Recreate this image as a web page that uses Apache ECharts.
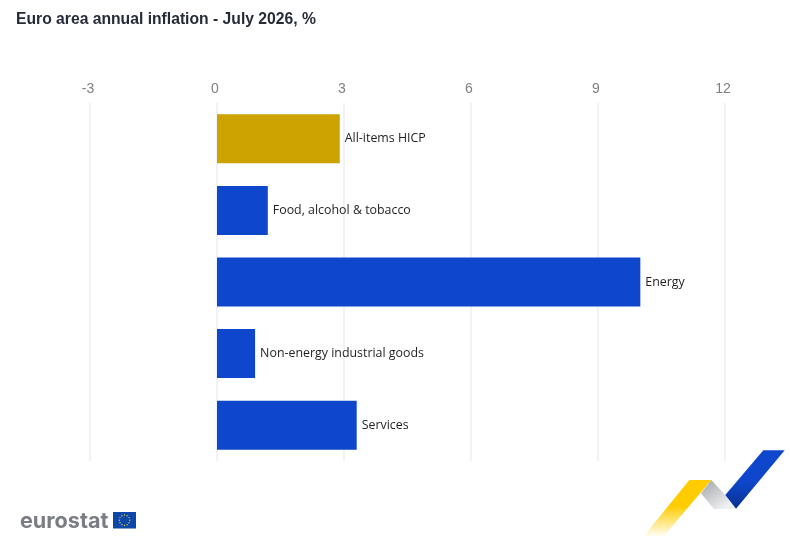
<!DOCTYPE html>
<html>
<head>
<meta charset="utf-8">
<style>html,body{margin:0;padding:0;background:#fff}#chart{width:790px;height:553px}</style>
<script src="https://cdn.jsdelivr.net/npm/echarts@6/dist/echarts.min.js"></script>
</head>
<body>
<div id="chart"></div>
<script>
// Euro area flash inflation by main component
const categories = ['All-items HICP', 'Food, alcohol & tobacco', 'Energy', 'Non-energy industrial goods', 'Services'];
const rates = [2.9, 1.2, 10.0, 0.9, 3.3];
const barColors = ['#cca300', '#0e47cb', '#0e47cb', '#0e47cb', '#0e47cb'];
const axisMin = -3;
const axisMax = 12;
const axisStep = 3;
const titleText = 'Euro area annual inflation - July 2026, %';

// Twelve gold stars for the flag in the logo
function flagStars(cx, cy, r) {
  const stars = [];
  for (let i = 0; i < 12; i++) {
    const a = i * Math.PI / 6;
    stars.push({
      type: 'circle',
      shape: { cx: cx + r * Math.cos(a), cy: cy + r * Math.sin(a), r: 0.7 },
      style: { fill: '#d9c94a' }
    });
  }
  return stars;
}

const chart = echarts.init(document.getElementById('chart'), null, { renderer: 'canvas' });
chart.setOption({
  animation: false,
  backgroundColor: '#ffffff',
  title: {
    text: titleText,
    left: 16,
    top: 12,
    padding: 0,
    textStyle: { fontFamily: 'Liberation Sans', fontSize: 15.7, fontWeight: 'bold', color: '#262b38' }
  },
  grid: { left: 90, width: 635, top: 103, height: 358 },
  xAxis: {
    type: 'value',
    position: 'top',
    min: axisMin,
    max: axisMax,
    interval: axisStep,
    axisLine: { show: false },
    axisTick: { show: false },
    axisLabel: {
      margin: 7,
      padding: [0, 4, 0, 0],
      fontFamily: 'Liberation Sans',
      fontSize: 14,
      color: '#808080'
    },
    splitLine: { show: true, lineStyle: { color: '#eceef5', width: 1.5 } }
  },
  yAxis: {
    type: 'category',
    inverse: true,
    data: categories,
    axisLine: { show: false },
    axisTick: { show: false },
    axisLabel: { show: false }
  },
  series: [{
    type: 'bar',
    barWidth: 49,
    data: rates.map((v, i) => ({ value: v, itemStyle: { color: barColors[i] } })),
    label: {
      show: true,
      position: 'right',
      distance: 5,
      formatter: '{b}',
      fontFamily: 'Open Sans',
      fontSize: 12.4,
      color: '#1f1f1f'
    }
  }],
  graphic: [
    {
      type: 'text',
      style: {
        x: 20, y: 521, text: 'eurostat', verticalAlign: 'middle',
        font: 'bold 21.6px "Inter"', fill: '#7b7d85'
      }
    },
    { type: 'rect', shape: { x: 113, y: 512, width: 23, height: 16.5 }, style: { fill: '#0e47a8' } },
    ...flagStars(124.5, 520.2, 5.2),
    {
      type: 'polygon',
      shape: { points: [[689.3, 480], [711.3, 480], [662.7, 537.5], [642.7, 537.5]] },
      style: {
        fill: new echarts.graphic.LinearGradient(0, 1, 0, 0, [
          { offset: 0, color: '#ffffff' },
          { offset: 0.55, color: '#ffcc00' },
          { offset: 1, color: '#ffcc00' }
        ])
      }
    },
    {
      type: 'polygon',
      shape: { points: [[711.3, 480], [725.3, 495], [736, 508.7], [714, 509.3], [701, 493.3]] },
      style: {
        fill: new echarts.graphic.LinearGradient(0, 0, 0.6, 1, [
          { offset: 0, color: '#a2a3a8' },
          { offset: 1, color: '#eff0f3' }
        ])
      }
    },
    {
      type: 'polygon',
      shape: { points: [[763.3, 450.3], [784.7, 450.3], [736, 508.7], [725.3, 495]] },
      style: {
        fill: new echarts.graphic.LinearGradient(0, 0, 0, 1, [
          { offset: 0, color: '#0e47cb' },
          { offset: 0.55, color: '#0e47cb' },
          { offset: 1, color: '#07308f' }
        ])
      }
    }
  ]
});
</script>
</body>
</html>
